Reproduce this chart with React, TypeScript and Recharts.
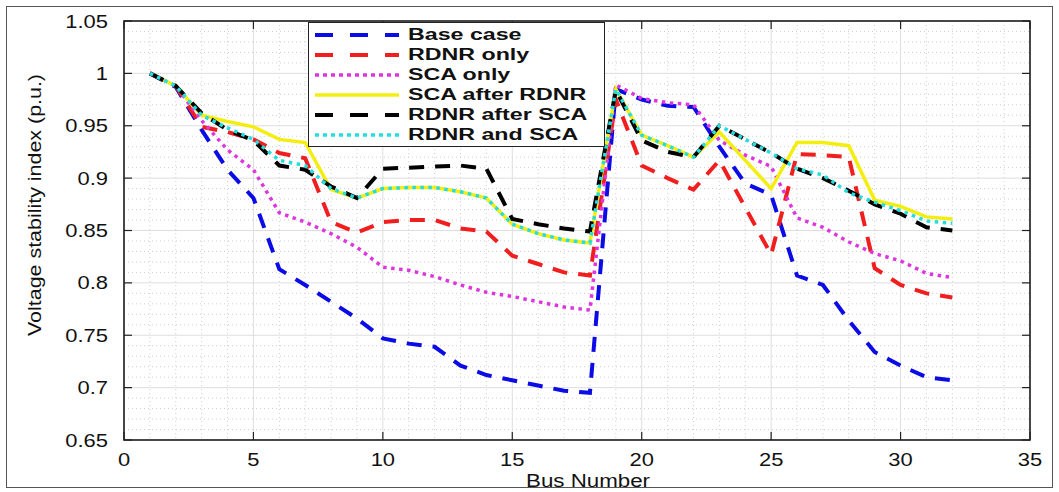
import { LineChart, Line, XAxis, YAxis, CartesianGrid, ReferenceArea, Legend } from 'recharts';

// plot box (px) inside the 1059x492 figure
const PL = 124;
const PR = 1030;
const PT = 21;
const PB = 440;

const busNumbers = [1, 2, 3, 4, 5, 6, 7, 8, 9, 10, 11, 12, 13, 14, 15, 16, 17, 18, 19, 20, 21, 22, 23, 24, 25, 26, 27, 28, 29, 30, 31, 32];

const baseCase = [1.0, 0.987, 0.946, 0.908, 0.881, 0.813, 0.798, 0.782, 0.766, 0.747, 0.742, 0.739, 0.721, 0.712, 0.707, 0.702, 0.697, 0.695, 0.985, 0.975, 0.969, 0.968, 0.93, 0.895, 0.884, 0.807, 0.798, 0.764, 0.734, 0.721, 0.71, 0.707];
const rdnrOnly = [1.0, 0.988, 0.949, 0.944, 0.937, 0.924, 0.919, 0.858, 0.848, 0.858, 0.86, 0.86, 0.852, 0.849, 0.826, 0.818, 0.81, 0.807, 0.975, 0.912, 0.9, 0.889, 0.917, 0.872, 0.827, 0.923, 0.922, 0.92, 0.814, 0.798, 0.79, 0.786];
const scaOnly = [1.0, 0.988, 0.955, 0.927, 0.908, 0.867, 0.858, 0.847, 0.834, 0.815, 0.812, 0.806, 0.798, 0.791, 0.787, 0.782, 0.777, 0.774, 0.989, 0.976, 0.972, 0.97, 0.936, 0.922, 0.911, 0.862, 0.853, 0.839, 0.828, 0.821, 0.809, 0.805];
const scaAfterRdnr = [1.0, 0.988, 0.96, 0.954, 0.949, 0.937, 0.934, 0.889, 0.881, 0.89, 0.891, 0.891, 0.887, 0.881, 0.856, 0.847, 0.841, 0.838, 0.985, 0.941, 0.931, 0.92, 0.944, 0.917, 0.89, 0.934, 0.934, 0.931, 0.879, 0.873, 0.863, 0.861];
const rdnrAfterSca = [1.0, 0.988, 0.962, 0.946, 0.936, 0.912, 0.908, 0.892, 0.881, 0.909, 0.91, 0.911, 0.912, 0.909, 0.861, 0.856, 0.852, 0.849, 0.984, 0.936, 0.925, 0.92, 0.95, 0.937, 0.924, 0.909, 0.9, 0.888, 0.875, 0.866, 0.853, 0.85];
const rdnrAndSca = [1.0, 0.988, 0.96, 0.948, 0.937, 0.917, 0.912, 0.89, 0.881, 0.89, 0.891, 0.891, 0.887, 0.881, 0.856, 0.847, 0.841, 0.838, 0.985, 0.941, 0.931, 0.92, 0.95, 0.937, 0.924, 0.909, 0.903, 0.886, 0.877, 0.869, 0.859, 0.857];

const xTicks = [0, 5, 10, 15, 20, 25, 30, 35];
const yTicks = [0.65, 0.7, 0.75, 0.8, 0.85, 0.9, 0.95, 1, 1.05];

const series = [
  { key: 'base', name: 'Base case', values: baseCase, color: '#0b0be6', width: 4, dash: '15 11', legendDash: '18 17' },
  { key: 'rdnr', name: 'RDNR only', values: rdnrOnly, color: '#f01e1e', width: 4, dash: '15 11', legendDash: '18 17' },
  { key: 'sca', name: 'SCA only', values: scaOnly, color: '#de36de', width: 3.5, dash: '3.5 4.5', legendDash: '4 4' },
  { key: 'scaRdnr', name: 'SCA after RDNR', values: scaAfterRdnr, color: '#f4ee10', width: 3.5, dash: undefined, legendDash: undefined },
  { key: 'rdnrSca', name: 'RDNR after SCA', values: rdnrAfterSca, color: '#000000', width: 4, dash: '15 11', legendDash: '18 17' },
  { key: 'both', name: 'RDNR and SCA', values: rdnrAndSca, color: '#24dede', width: 3.5, dash: '3.5 4.5', legendDash: '4 4' },
];

const data = busNumbers.map((bus, i) => {
  const row: Record<string, number> = { bus };
  series.forEach((s) => {
    row[s.key] = s.values[i];
  });
  return row;
});

const FONT = '"Liberation Sans", Arial, Helvetica, sans-serif';

// dotted minor grid: every 1 bus and every 0.01 p.u.
const minorHorizontal = ({ offset }: any) => {
  const top = offset ? offset.top : PT;
  const h = offset ? offset.height : PB - PT;
  const pts: number[] = [];
  for (let k = 1; k < 40; k++) if (k % 5 !== 0) pts.push(top + (h * k) / 40);
  return pts;
};
const minorVertical = ({ offset }: any) => {
  const left = offset ? offset.left : PL;
  const w = offset ? offset.width : PR - PL;
  const pts: number[] = [];
  for (let k = 1; k < 35; k++) if (k % 5 !== 0) pts.push(left + (w * k) / 35);
  return pts;
};

const YTick = ({ x, y, payload }: any) => (
  <g>
    <line x1={PL} x2={PL + 8} y1={y} y2={y} stroke="#222" strokeWidth={1.2} />
    <line x1={PR - 8} x2={PR} y1={y} y2={y} stroke="#222" strokeWidth={1.2} />
    <text transform={`translate(${x},${y + 6.5}) scale(1.22,1)`} textAnchor="end" fontSize={18} fontFamily={FONT} fill="#111">
      {payload.value}
    </text>
  </g>
);

const XTick = ({ x, payload }: any) => (
  <g>
    <line x1={x} x2={x} y1={PB - 8} y2={PB} stroke="#222" strokeWidth={1.2} />
    <line x1={x} x2={x} y1={PT} y2={PT + 8} stroke="#222" strokeWidth={1.2} />
    <text transform={`translate(${x},${PB + 25.5}) scale(1.22,1)`} textAnchor="middle" fontSize={18} fontFamily={FONT} fill="#111">
      {payload.value}
    </text>
  </g>
);

const YTitle = () => (
  <text
    transform="translate(41,205) rotate(-90)"
    textAnchor="middle"
    fontSize={18}
    fontFamily={FONT}
    fill="#111"
    textLength={262}
    lengthAdjust="spacingAndGlyphs"
  >
    Voltage stability index (p.u.)
  </text>
);

const XTitle = () => (
  <text x={588} y={487} textAnchor="middle" fontSize={18} fontFamily={FONT} fill="#111" textLength={124} lengthAdjust="spacingAndGlyphs">
    Bus Number
  </text>
);

const LegendBox = () => (
  <div
    style={{
      width: 297,
      height: 125,
      border: '1px solid #222',
      background: '#fff',
      boxSizing: 'border-box',
      padding: '2px 0 0 6px',
    }}
  >
    {series.map((s) => (
      <div key={s.key} style={{ display: 'flex', alignItems: 'center', height: 20 }}>
        <svg width={84} height={8} style={{ flex: 'none' }}>
          <line x1={0} x2={84} y1={4} y2={4} stroke={s.color} strokeWidth={s.width} strokeDasharray={s.legendDash} />
        </svg>
        <span
          style={{
            marginLeft: 9,
            fontFamily: FONT,
            fontWeight: 'bold',
            fontSize: 16,
            color: '#111',
            display: 'inline-block',
            whiteSpace: 'nowrap',
            transform: 'scaleX(1.45)',
            transformOrigin: 'left center',
          }}
        >
          {s.name}
        </span>
      </div>
    ))}
  </div>
);

export default function App() {
  return (
    <div style={{ position: 'absolute', left: 0, top: 0, width: 1059, height: 492, background: '#fff' }}>
      <LineChart width={1059} height={492} data={data} margin={{ top: PT, right: 1059 - PR, bottom: 0, left: 0 }}>
        <CartesianGrid
          stroke="#cfcfcf"
          strokeDasharray="1 3"
          horizontalCoordinatesGenerator={minorHorizontal}
          verticalCoordinatesGenerator={minorVertical}
        />
        <CartesianGrid stroke="#dedede" />
        <XAxis
          type="number"
          dataKey="bus"
          domain={[0, 35]}
          ticks={xTicks}
          height={492 - PB}
          axisLine={false}
          tickLine={false}
          tickSize={0}
          tickMargin={0}
          tick={<XTick />}
          label={<XTitle />}
        />
        <YAxis
          type="number"
          domain={[0.65, 1.05]}
          ticks={yTicks}
          width={PL}
          axisLine={false}
          tickLine={false}
          tickSize={0}
          tickMargin={16}
          tick={<YTick />}
          label={<YTitle />}
        />
        {series.map((s) => (
          <Line
            key={s.key}
            type="linear"
            dataKey={s.key}
            name={s.name}
            stroke={s.color}
            strokeWidth={s.width}
            strokeDasharray={s.dash}
            dot={false}
            activeDot={false}
            isAnimationActive={false}
          />
        ))}
        <ReferenceArea x1={0} x2={35} y1={0.65} y2={1.05} fill="none" stroke="#111" strokeWidth={1.5} />
        <Legend
          layout="vertical"
          verticalAlign="middle"
          align="center"
          content={<LegendBox />}
          wrapperStyle={{ left: 308, top: 22, width: 297, height: 125 }}
        />
      </LineChart>
      {/* thin frame around the whole figure */}
      <div
        style={{
          position: 'absolute',
          left: 6,
          top: 6,
          width: 1045,
          height: 480,
          border: '1px solid #555',
          pointerEvents: 'none',
          zIndex: 2,
        }}
      />
    </div>
  );
}
